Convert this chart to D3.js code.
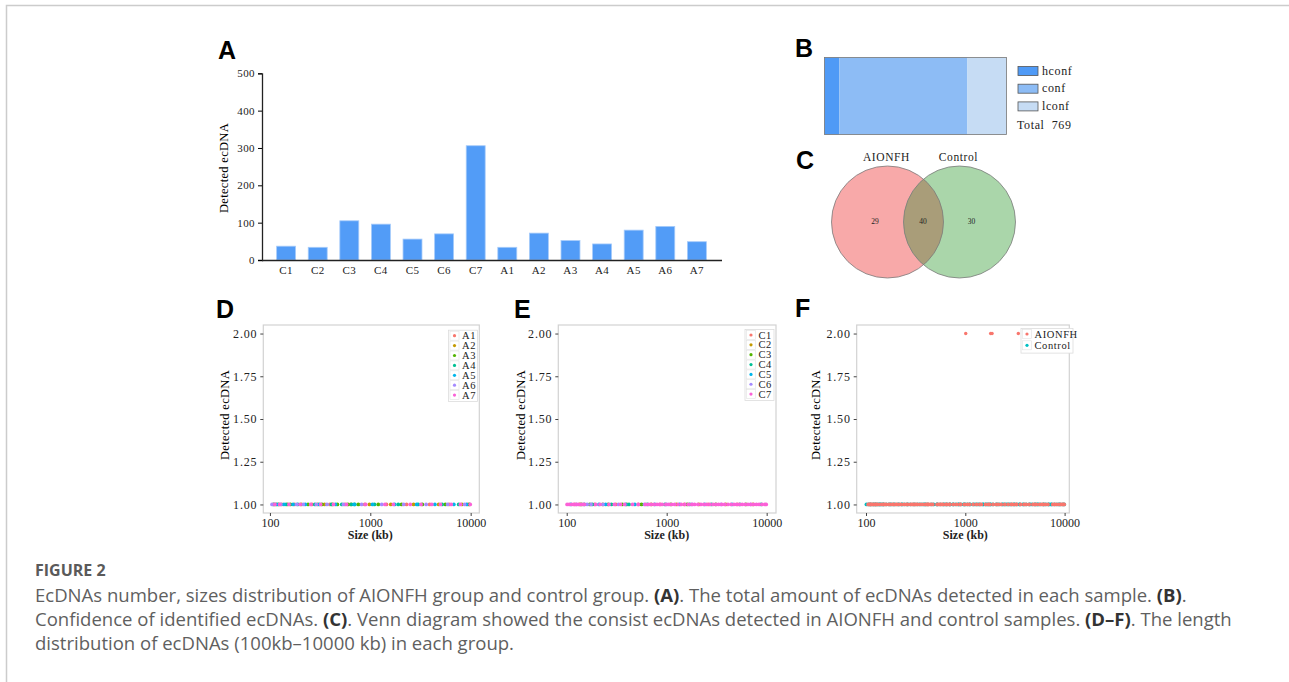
<!DOCTYPE html>
<html>
<head>
<meta charset="utf-8">
<script src="https://cdn.jsdelivr.net/npm/d3@7"></script>
<style>
  body { margin: 0; background: #fff; }
  svg { display: block; }
</style>
</head>
<body>
<svg id="fig" width="1289" height="682"></svg>
<script>
// panel A data
const categories = ["C1", "C2", "C3", "C4", "C5", "C6", "C7", "A1", "A2", "A3", "A4", "A5", "A6", "A7"];
const detected = [37, 34, 105, 96, 56, 70, 306, 34, 72, 52, 43, 80, 90, 49];
const yTicksA = [0, 100, 200, 300, 400, 500];

// panel B data
const confLevels = ["hconf", "conf", "lconf"];
const confCounts = [63, 541, 165];
const confColors = ["#4f9af6", "#8dbcf5", "#c6dcf4"];

// panel C data
const vennSets = ["AIONFH", "Control"];
const vennCounts = [29, 40, 30]; // only AIONFH, both, only Control

// panels D-F
const sizeTicks = [100, 1000, 10000];
const countTicks = [1.00, 1.25, 1.50, 1.75, 2.00];
const hue7 = ["#F8766D", "#C49A00", "#53B400", "#00C094", "#00B6EB", "#A58AFF", "#FB61D7"];
const groupColors = ["#F8766D", "#00BFC4"];

const aSamples = ["A1", "A2", "A3", "A4", "A5", "A6", "A7"];
const sizesA1 = [108, 131, 176, 262, 395, 560, 880, 1450, 2300, 3900, 6100, 9400];
const sizesA2 = [115, 150, 205, 300, 350, 420, 640, 980, 1600, 2700, 4800, 8200];
const sizesA3 = [122, 160, 240, 330, 470, 600, 760, 1200, 2050, 3300, 5600, 9700];
const sizesA4 = [110, 145, 190, 280, 410, 520, 650, 700, 1100, 1900, 3000, 5200, 7600];
const sizesA5 = [118, 138, 170, 225, 310, 450, 690, 1050, 1750, 2900, 4400, 6800, 9100];
const sizesA6 = [105, 128, 185, 215, 290, 370, 540, 820, 1300, 2150, 3600, 5900, 8700];
const sizesA7 = [112, 125, 155, 200, 255, 320, 430, 580, 900, 1400, 1700, 2500, 3200, 4100, 5000, 6400, 7900, 9900];

const cSamples = ["C1", "C2", "C3", "C4", "C5", "C6", "C7"];
const sizesC1 = [120, 190, 310, 520, 860, 1500, 2600, 5100];
const sizesC2 = [135, 230, 400, 700, 1250, 2100, 3900, 7300];
const sizesC3 = [140, 170, 260, 360, 560, 1100, 1600, 3100, 6200];
const sizesC4 = [150, 180, 280, 420, 640, 960, 1700, 2800, 5400, 8800];
const sizesC5 = [110, 210, 245, 390, 480, 760, 1350, 2400, 4500];
const sizesC6 = [125, 160, 175, 230, 330, 600, 1000, 1800, 3500, 6900];
const sizesC7 = [101, 106, 112, 118, 125, 131, 138, 145, 150, 195, 215, 265, 300, 345, 380, 455, 520,
  615, 660, 700, 750, 800, 850, 900, 980, 1050, 1120, 1200, 1300, 1400, 1520, 1650, 1780, 1900,
  2050, 2200, 2350, 2500, 2700, 2900, 3100, 3300, 3550, 3800, 4100, 4400, 4700, 5000, 5350, 5700,
  6100, 6500, 6950, 7400, 7900, 8400, 9000, 9600, 9900];

// F: sizes found in two AIONFH samples
const aionfhShared = [1010, 1800, 1860, 3420];

const figureTitle = "FIGURE 2";
const captionLines = [
  [["EcDNAs number, sizes distribution of AIONFH group and control group. ", 0], ["(A)", 1], [". The total amount of ecDNAs detected in each sample. ", 0], ["(B)", 1], [".", 0]],
  [["Confidence of identified ecDNAs. ", 0], ["(C)", 1], [". Venn diagram showed the consist ecDNAs detected in AIONFH and control samples. ", 0], ["(D\u2013F)", 1], [". The length", 0]],
  [["distribution of ecDNAs (100kb\u201310000 kb) in each group.", 0]]
];

var serif = "Liberation Serif, Times New Roman, serif";
var svg = d3.select("#fig");

// card border
svg.append("path")
  .attr("d", "M6.5,682 V5.5 H1289")
  .attr("fill", "none").attr("stroke", "#cccccc").attr("stroke-width", 1.5);

function panelLetter(t, x, y) {
  svg.append("text")
    .attr("x", x).attr("y", y)
    .attr("font-family", "Liberation Sans, Arial, sans-serif")
    .attr("font-weight", "bold").attr("font-size", 25)
    .text(t);
}

function yTitle(x, y) {
  svg.append("text").attr("font-family", serif)
    .attr("transform", "translate(" + x + "," + y + ") rotate(-90)")
    .attr("text-anchor", "middle").attr("font-size", 12.5)
    .attr("letter-spacing", 0.3)
    .text("Detected ecDNA");
}

// ---------- A: bar chart ----------
panelLetter("A", 218, 59);
var xA = d3.scaleBand().domain(categories).range([264, 719]).padding(0.4);
var yA = d3.scaleLinear().domain([0, 500]).range([260, 73.3]);

svg.append("g").selectAll("rect")
  .data(detected)
  .enter().append("rect")
  .attr("x", (d, i) => xA(categories[i]))
  .attr("width", xA.bandwidth())
  .attr("y", d => yA(d))
  .attr("height", d => yA(0) - yA(d))
  .attr("fill", "#529cf7")
  .attr("stroke", "#a6cbfa").attr("stroke-width", 0.8);

var gyA = svg.append("g").attr("transform", "translate(262,0)")
  .call(d3.axisLeft(yA).tickValues(yTicksA).tickSize(4).tickPadding(3))
  .attr("font-family", serif).attr("font-size", 11);
gyA.select(".domain").attr("stroke", "#222").attr("stroke-width", 1.3);
gyA.selectAll("text").attr("letter-spacing", 0.4).attr("fill", "#222");

var gxA = svg.append("g").attr("transform", "translate(0,260)")
  .call(d3.axisBottom(xA).tickSize(0).tickPadding(6))
  .attr("font-family", serif).attr("font-size", 11);
gxA.select(".domain").attr("d", "M262,0.5H722").attr("stroke", "#222").attr("stroke-width", 1.3);
gxA.selectAll("text").attr("letter-spacing", 0.4).attr("fill", "#222");
yTitle(228, 168);

// ---------- B: confidence bar ----------
panelLetter("B", 795, 57);
var xB = d3.scaleLinear().domain([0, d3.sum(confCounts)]).range([824.5, 1006.5]);
var cum = d3.cumsum(confCounts);
svg.append("g").selectAll("rect")
  .data(confCounts)
  .enter().append("rect")
  .attr("x", (d, i) => xB(cum[i] - d))
  .attr("width", d => xB(d) - xB(0))
  .attr("y", 57.5).attr("height", 77)
  .attr("fill", (d, i) => confColors[i]);
svg.append("rect").attr("x", 824.5).attr("y", 57.5).attr("width", 182).attr("height", 77)
  .attr("fill", "none").attr("stroke", "#777").attr("stroke-width", 0.8);

var legB = svg.append("g");
confLevels.forEach(function (lv, i) {
  var yy = 66.5 + i * 17.7;
  legB.append("rect").attr("x", 1018).attr("y", yy).attr("width", 20).attr("height", 9)
    .attr("fill", confColors[i]).attr("stroke", "#555").attr("stroke-width", 0.8);
  legB.append("text").attr("font-family", serif).attr("x", 1042).attr("y", yy + 8)
    .attr("font-size", 12).attr("letter-spacing", 0.6).attr("fill", "#222").text(lv);
});
legB.append("text").attr("font-family", serif).attr("x", 1017).attr("y", 129)
  .attr("font-size", 12).attr("letter-spacing", 0.6).attr("fill", "#222")
  .attr("xml:space", "preserve")
  .text("Total  " + d3.sum(confCounts));

// ---------- C: venn ----------
panelLetter("C", 796, 169);
var vr = 56, vcy = 222;
var vcx = [887.5, 959.5];
var defs = svg.append("defs");
defs.append("clipPath").attr("id", "clipLeft")
  .append("circle").attr("cx", vcx[0]).attr("cy", vcy).attr("r", vr);
svg.append("circle").attr("cx", vcx[0]).attr("cy", vcy).attr("r", vr).attr("fill", "#f8a9a9");
svg.append("circle").attr("cx", vcx[1]).attr("cy", vcy).attr("r", vr).attr("fill", "#aad6aa");
svg.append("circle").attr("cx", vcx[1]).attr("cy", vcy).attr("r", vr)
  .attr("clip-path", "url(#clipLeft)").attr("fill", "#a99d79");
vcx.forEach(function (cx) {
  svg.append("circle").attr("cx", cx).attr("cy", vcy).attr("r", vr)
    .attr("fill", "none").attr("stroke", "#7b7b7b").attr("stroke-width", 0.8);
});
vennSets.forEach(function (s, i) {
  svg.append("text").attr("font-family", serif).attr("x", vcx[i] - 1).attr("y", 161)
    .attr("text-anchor", "middle").attr("font-size", 11.5).attr("letter-spacing", 0.6)
    .attr("fill", "#222").text(s);
});
var vennX = [875, 923, 971.5];
vennCounts.forEach(function (c, i) {
  svg.append("text").attr("font-family", serif).attr("x", vennX[i]).attr("y", 223.5)
    .attr("text-anchor", "middle").attr("font-size", 7.5).attr("fill", "#222").text(c);
});

// ---------- D-F: size scatter ----------
function scatterPanel(p) {
  var x = d3.scaleLog().domain(p.xDomain).range([p.left, p.right]);
  var y = d3.scaleLinear().domain([0.95, 2.05]).range([513, 325]);

  svg.append("rect").attr("x", p.left).attr("y", 325)
    .attr("width", p.right - p.left).attr("height", 188)
    .attr("fill", "none").attr("stroke", "#d2d2d2").attr("stroke-width", 1.2);

  // last series in drawOrder ends up on top
  var g = svg.append("g");
  var order = p.drawOrder || p.series.map((s, i) => i);
  order.forEach(function (k) {
    var s = p.series[k];
    g.selectAll(null).data(s.sizes).enter().append("circle")
      .attr("cx", d => x(d)).attr("cy", y(1)).attr("r", 1.9).attr("fill", s.color);
    if (s.shared) {
      g.selectAll(null).data(s.shared).enter().append("circle")
        .attr("cx", d => x(d)).attr("cy", y(2)).attr("r", 1.7).attr("fill", s.color);
    }
  });

  var gy = svg.append("g").attr("transform", "translate(" + p.left + ",0)")
    .call(d3.axisLeft(y).tickValues(countTicks).tickFormat(d3.format(".2f")).tickSize(3).tickPadding(3))
    .attr("font-family", serif).attr("font-size", 12);
  gy.select(".domain").remove();
  gy.selectAll("line").attr("stroke", "#444");
  gy.selectAll("text").attr("letter-spacing", 0.8).attr("fill", "#222");

  var gx = svg.append("g").attr("transform", "translate(0,513)")
    .call(d3.axisBottom(x).tickValues(sizeTicks).tickFormat(d3.format("d")).tickSize(3).tickPadding(2))
    .attr("font-family", serif).attr("font-size", 12);
  gx.select(".domain").remove();
  gx.selectAll("line").attr("stroke", "#444");
  gx.selectAll("text").attr("fill", "#222");

  svg.append("text").attr("font-family", serif)
    .attr("x", (x(100) + x(10000)) / 2).attr("y", 539)
    .attr("text-anchor", "middle").attr("font-size", 12).attr("font-weight", "bold")
    .attr("fill", "#222").text("Size (kb)");
  yTitle(p.yTitleX, 415);

  // legend
  var n = p.series.length;
  var lg = svg.append("g");
  lg.append("rect").attr("x", p.legX - 1.5).attr("y", p.legY - 5.5)
    .attr("width", p.legW).attr("height", n * p.legStep + 2)
    .attr("fill", "#fff").attr("stroke", "#dcdcdc").attr("stroke-width", 0.8);
  p.series.forEach(function (s, i) {
    var cy = p.legY + i * p.legStep;
    lg.append("rect").attr("x", p.legX).attr("y", cy - 4.5).attr("width", 9).attr("height", 9)
      .attr("fill", "#fff").attr("stroke", "#e2e2e2").attr("stroke-width", 0.6);
    lg.append("circle").attr("cx", p.legX + 4.5).attr("cy", cy).attr("r", 1.6).attr("fill", s.color);
    lg.append("text").attr("font-family", serif).attr("x", p.legX + 12).attr("y", cy + 3.6)
      .attr("font-size", 10.5).attr("letter-spacing", 0.6).attr("fill", "#222").text(s.name);
  });
}

var aSizes = [sizesA1, sizesA2, sizesA3, sizesA4, sizesA5, sizesA6, sizesA7];
var cSizes = [sizesC1, sizesC2, sizesC3, sizesC4, sizesC5, sizesC6, sizesC7];

panelLetter("D", 216, 318);
scatterPanel({
  left: 263.3, right: 479.3, xDomain: [85.9, 12190], yTitleX: 229,
  legX: 450, legY: 335.7, legStep: 9.9, legW: 29,
  series: aSamples.map((s, i) => ({ name: s, color: hue7[i], sizes: aSizes[i] }))
});

panelLetter("E", 514, 318);
scatterPanel({
  left: 558.3, right: 776, xDomain: [82.4, 12400], yTitleX: 525,
  legX: 746.5, legY: 335, legStep: 9.85, legW: 29,
  series: cSamples.map((s, i) => ({ name: s, color: hue7[i], sizes: cSizes[i] }))
});

panelLetter("F", 795, 317);
scatterPanel({
  left: 856.7, right: 1069.3, xDomain: [80.6, 11150], yTitleX: 820,
  legX: 1022.5, legY: 334, legStep: 11.3, legW: 52,
  series: [
    { name: "AIONFH", color: groupColors[0], sizes: d3.merge(aSizes), shared: aionfhShared },
    { name: "Control", color: groupColors[1], sizes: d3.merge(cSizes) }
  ],
  drawOrder: [1, 0]
});

// ---------- caption ----------
svg.append("text").attr("x", 35).attr("y", 576)
  .attr("font-family", "Open Sans, sans-serif").attr("font-weight", "bold")
  .attr("font-size", 16).attr("fill", "#5a5a5a").text(figureTitle);

var capTexts = [];
captionLines.forEach(function (line, i) {
  var t = svg.append("text").attr("x", 35).attr("y", 602 + i * 24)
    .attr("font-family", "Open Sans, sans-serif").attr("font-size", 17.5)
    .attr("fill", "#5f5f5f").attr("xml:space", "preserve");
  line.forEach(function (seg) {
    t.append("tspan").attr("font-weight", seg[1] ? "bold" : "normal")
      .attr("fill", seg[1] ? "#333" : "#5f5f5f").text(seg[0]);
  });
  capTexts.push(t);
});
// first caption line runs to about x=1188 in the figure
var w0 = capTexts[0].node().getComputedTextLength();
var fs = 17.5 * 1153 / w0;
capTexts.forEach(t => t.attr("font-size", fs.toFixed(2)));
</script>
</body>
</html>
